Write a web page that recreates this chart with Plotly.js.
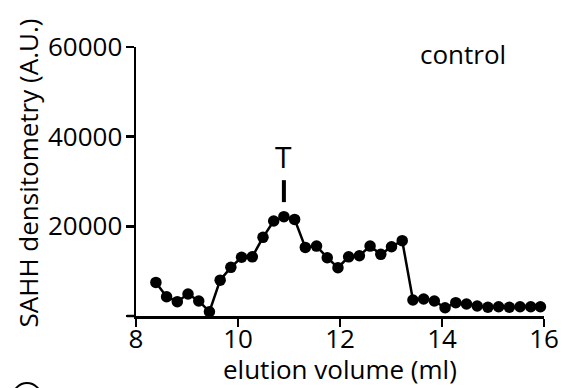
<!DOCTYPE html>
<html>
<head>
<meta charset="utf-8">
<script src="https://cdn.plot.ly/plotly-3.0.1.min.js"></script>
<style>html,body{margin:0;padding:0;background:#fff;}#chart{width:562px;height:388px;}</style>
</head>
<body>
<div id="chart"></div>
<script>
// Elution volume (ml)
var elutionVolume = [8.39, 8.60, 8.81, 9.02, 9.23, 9.44, 9.65, 9.86, 10.07, 10.28,
  10.49, 10.70, 10.90, 11.11, 11.32, 11.54, 11.75, 11.96, 12.17, 12.38,
  12.59, 12.80, 13.01, 13.22, 13.43, 13.64, 13.85, 14.06, 14.27, 14.48,
  14.69, 14.90, 15.11, 15.32, 15.53, 15.74, 15.93];
// SAHH densitometry (A.U.), control
var sahhControl = [7500, 4300, 3200, 4900, 3350, 960, 8000, 10850, 13100, 13200,
  17550, 21200, 22150, 21550, 15300, 15600, 13000, 10770, 13200, 13450,
  15600, 13750, 15450, 16800, 3570, 3790, 3350, 1850, 2970, 2680,
  2230, 1940, 2070, 1940, 2070, 2070, 2070];
var xTickVals = [8, 10, 12, 14, 16];
var yTickVals = [0, 20000, 40000, 60000];
var yTickText = ["", "20000", "40000", "60000"];
var peakLabel = "T";
var panelLabel = "control";
var xTitle = "elution volume (ml)";
var yTitle = "SAHH densitometry (A.U.)";

var FONT = "Open Sans, sans-serif";
var FS = 26;
var trace = {
  x: elutionVolume, y: sahhControl, type: "scatter", mode: "lines+markers",
  line: {color: "#000", width: 2.5},
  marker: {color: "#000", size: 11.5},
  cliponaxis: false, showlegend: false
};
var layout = {
  width: 562, height: 388,
  margin: {l: 136, r: 18, t: 47, b: 72},
  paper_bgcolor: "#fff", plot_bgcolor: "#fff",
  font: {family: FONT, color: "#000", size: FS},
  xaxis: {
    range: [8, 16], tickvals: xTickVals, ticks: "outside", ticklen: 8, tickwidth: 2.5,
    tickcolor: "#000", showline: true, linecolor: "#000", linewidth: 2.5,
    showgrid: false, zeroline: false, tickfont: {size: FS, family: FONT},
    ticklabelstandoff: -10
  },
  yaxis: {
    range: [0, 60000], tickvals: yTickVals, ticktext: yTickText, ticks: "outside", ticklen: 8, tickwidth: 2.5,
    tickcolor: "#000", showline: true, linecolor: "#000", linewidth: 2.5,
    showgrid: false, zeroline: false, tickfont: {size: FS, family: FONT},
    ticklabelstandoff: -2
  },
  shapes: [
    {type: "line", xref: "paper", yref: "paper", x0: -9/408, x1: 0, y0: 0, y1: 0,
     line: {color: "#000", width: 2.5}},
    {type: "line", xref: "x", yref: "y", x0: elutionVolume[12], x1: elutionVolume[12], y0: 25400, y1: 30300,
     line: {color: "#000", width: 4}},
    {type: "circle", xref: "paper", yref: "paper",
     x0: -123/408, x1: -95/408, y0: -95/269, y1: -67/269,
     line: {color: "#000", width: 2}}
  ],
  annotations: [
    {text: peakLabel, xref: "x", yref: "y", x: elutionVolume[12], y: 35500, showarrow: false,
     yanchor: "middle", font: {size: 30, family: FONT}},
    {text: panelLabel, xref: "paper", yref: "paper", x: 0.801, y: 0.975, showarrow: false,
     xanchor: "center", yanchor: "middle", font: {size: FS, family: FONT}},
    {text: xTitle, xref: "paper", yref: "paper", x: 0.5, y: -53/269, showarrow: false,
     xanchor: "center", yanchor: "middle", font: {size: FS, family: FONT}},
    {text: yTitle, xref: "paper", yref: "paper", x: -108/408, y: 0.53, textangle: -90,
     showarrow: false, xanchor: "center", yanchor: "middle", font: {size: FS, family: FONT}}
  ]
};
Plotly.newPlot("chart", [trace], layout, {staticPlot: true, displayModeBar: false});
</script>
</body>
</html>
